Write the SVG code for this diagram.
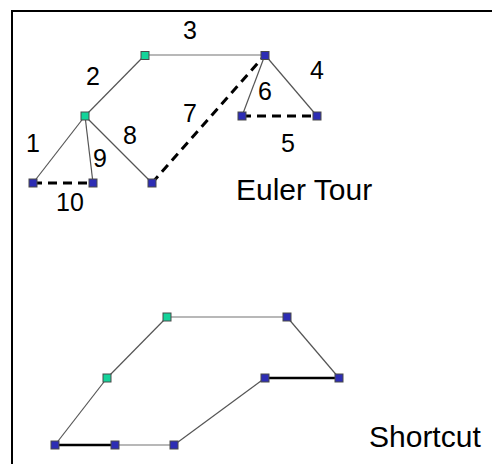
<svg xmlns="http://www.w3.org/2000/svg" width="492" height="464" viewBox="0 0 492 464">
<style>
.lbl{font-family:"Liberation Sans",Tahoma,sans-serif;font-size:25px;fill:#000;text-anchor:middle}
.big{font-family:"Liberation Sans",Tahoma,sans-serif;font-size:30px;fill:#000}
.e{stroke:#555;stroke-width:1.2;fill:none}
.el{stroke:#a0a0a0;stroke-width:1.5;fill:none}
.d{stroke:#000;stroke-width:3;stroke-dasharray:9,6;fill:none}
.t{stroke:#000;stroke-width:2.5;fill:none}
.g{fill:#14d39a;stroke:#4a4a4a;stroke-width:1}
.b{fill:#2d2db4;stroke:#4a4a4a;stroke-width:1}
</style>
<rect width="492" height="464" fill="#fff"/>
<path d="M12,464 V11 H492" fill="none" stroke="#000" stroke-width="2"/>
<g id="connectors">
<line class="e" x1="85" y1="116" x2="145" y2="55"/>
<line class="el" x1="145" y1="55" x2="265" y2="55"/>
<line class="e" x1="265" y1="55" x2="242" y2="116"/>
<line class="e" x1="265" y1="55" x2="317" y2="116"/>
<line class="d" x1="242" y1="116" x2="317" y2="116"/>
<line class="d" x1="152" y1="183" x2="265" y2="55"/>
<line class="e" x1="85" y1="116" x2="152" y2="183"/>
<line class="e" x1="85" y1="116" x2="93" y2="183"/>
<line class="e" x1="85" y1="116" x2="33" y2="183"/>
<line class="d" x1="33" y1="183" x2="93" y2="183"/>
<line class="e" x1="55" y1="445" x2="107" y2="378"/>
<line class="e" x1="107" y1="378" x2="167" y2="317"/>
<line class="el" x1="167" y1="317" x2="287" y2="317"/>
<line class="e" x1="287" y1="317" x2="339" y2="378"/>
<line class="t" x1="339" y1="378" x2="265" y2="378"/>
<line class="e" x1="265" y1="378" x2="174" y2="445"/>
<line class="el" x1="174" y1="445" x2="115" y2="445"/>
<line class="t" x1="115" y1="445" x2="55" y2="445"/>
</g>
<g id="nA"><rect class="g" x="141" y="51.5" width="8" height="8"/></g>
<g id="nB"><rect class="b" x="261" y="51.5" width="8" height="8"/></g>
<g id="nC"><rect class="g" x="81" y="112" width="8" height="8"/></g>
<g id="nD"><rect class="b" x="29" y="179" width="8" height="8"/></g>
<g id="nE"><rect class="b" x="89" y="179" width="8" height="8"/></g>
<g id="nF"><rect class="b" x="148" y="179" width="8" height="8"/></g>
<g id="nG"><rect class="b" x="238" y="112" width="8" height="8"/></g>
<g id="nH"><rect class="b" x="313" y="112" width="8" height="8"/></g>
<g id="s1"><rect class="g" x="163" y="313" width="8" height="8"/></g>
<g id="s2"><rect class="b" x="283" y="313" width="8" height="8"/></g>
<g id="s3"><rect class="g" x="103" y="374" width="8" height="8"/></g>
<g id="s4"><rect class="b" x="261" y="374" width="8" height="8"/></g>
<g id="s5"><rect class="b" x="335" y="374" width="8" height="8"/></g>
<g id="s6"><rect class="b" x="51" y="441" width="8" height="8"/></g>
<g id="s7"><rect class="b" x="111" y="441" width="8" height="8"/></g>
<g id="s8"><rect class="b" x="170" y="441" width="8" height="8"/></g>
<g id="labels">
<text class="lbl" x="190" y="39">3</text>
<text class="lbl" x="93" y="85">2</text>
<text class="lbl" x="317" y="79">4</text>
<text class="lbl" x="265" y="100">6</text>
<text class="lbl" x="190" y="122">7</text>
<text class="lbl" x="130" y="144">8</text>
<text class="lbl" x="33" y="152">1</text>
<text class="lbl" x="100" y="167">9</text>
<text class="lbl" x="288" y="152">5</text>
<text class="lbl" x="70" y="211">10</text>
<text class="big" x="236" y="200">Euler Tour</text>
<text class="big" x="369" y="447">Shortcut</text>
</g>
</svg>
